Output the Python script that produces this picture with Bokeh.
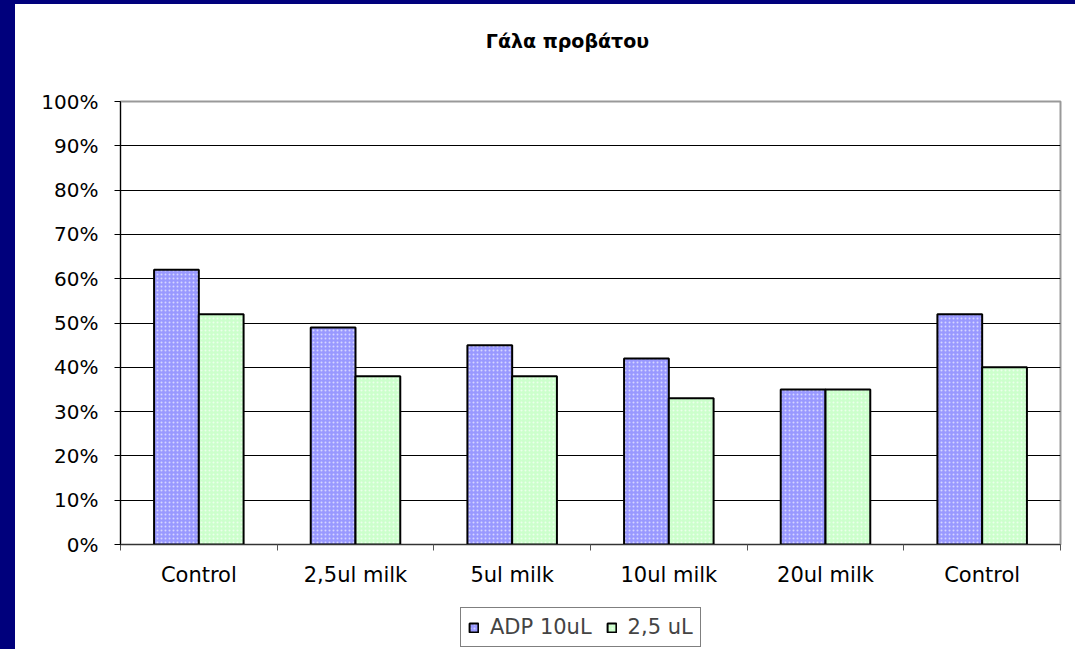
import numpy as np
from bokeh.plotting import figure
from bokeh.models import (ColumnDataSource, Range1d, FixedTicker, NumeralTickFormatter,
                          Legend, LegendItem, Spacer, Label)
from bokeh.layouts import row, column
from bokeh.embed import file_html
from bokeh.resources import INLINE

# ---- data ----
categories = ["Control", "2,5ul milk", "5ul milk", "10ul milk", "20ul milk", "Control"]
adp_10ul = [0.62, 0.49, 0.45, 0.42, 0.35, 0.52]
val_2_5ul = [0.52, 0.38, 0.38, 0.33, 0.35, 0.40]
series_names = ["ADP 10uL", "2,5 uL"]
series_colors = ["#9999ff", "#ccffcc"]
title_text = "Γάλα προβάτου"

FONT = "DejaVu Sans"
NAVY = "#00007c"
n = len(categories)
idx = np.arange(n)
bar_w = 1 / 3.5
centers = idx + 0.5

src1 = ColumnDataSource(dict(x=centers - bar_w / 2, top=adp_10ul))
src2 = ColumnDataSource(dict(x=centers + bar_w / 2, top=val_2_5ul))

bar_style = dict(line_color="black", line_width=2, hatch_pattern="dot", hatch_color="white",
                 hatch_scale=4, hatch_weight=1, hatch_alpha=0.6)

def strip(height, y_range):
    f = figure(width=1055, height=height, output_backend="svg", toolbar_location=None,
               x_range=Range1d(0, n), y_range=y_range,
               x_axis_location=None, y_axis_location=None,
               min_border_left=105, min_border_right=10, min_border_top=0, min_border_bottom=0,
               background_fill_color="white", border_fill_color="white")
    f.outline_line_color = None
    f.grid.visible = False
    return f

# ---- title strip ----
tf = strip(60, Range1d(0, 1))
tf.add_layout(Label(x=n * 0.4755, y=0.4, text=title_text, text_align="center",
                    text_baseline="middle", text_font=FONT, text_font_size="19px",
                    text_font_style="bold", text_color="black"))

# ---- main chart ----
p = figure(width=1055, height=540, output_backend="svg", toolbar_location=None,
           x_range=Range1d(0, n), y_range=Range1d(0, 1),
           min_border_left=105, min_border_right=10, min_border_top=37, min_border_bottom=60,
           background_fill_color="white", border_fill_color="white")

p.vbar(x="x", top="top", width=bar_w, source=src1, fill_color=series_colors[0], **bar_style)
p.vbar(x="x", top="top", width=bar_w, source=src2, fill_color=series_colors[1], **bar_style)

xa = p.xaxis[0]
xa.ticker = FixedTicker(ticks=list(centers), minor_ticks=list(range(n + 1)))
xa.major_label_overrides = {float(c): lab for c, lab in zip(centers, categories)}
xa.major_tick_line_color = None
xa.major_tick_out = 0
xa.major_tick_in = 0
xa.minor_tick_out = 6
xa.minor_tick_in = 0
xa.minor_tick_line_color = "#555555"
xa.axis_line_color = "#333333"
xa.major_label_standoff = 12
xa.major_label_text_font = FONT
xa.major_label_text_font_size = "21px"
xa.major_label_text_color = "black"

ya = p.yaxis[0]
ya.ticker = FixedTicker(ticks=[i / 10 for i in range(11)])
ya.formatter = NumeralTickFormatter(format="0%")
ya.major_tick_out = 6
ya.major_tick_in = 0
ya.minor_tick_line_color = None
ya.axis_line_color = "black"
ya.major_tick_line_color = "black"
ya.major_label_standoff = 16
ya.major_label_text_font = FONT
ya.major_label_text_font_size = "20px"
ya.major_label_text_color = "black"

p.xgrid.grid_line_color = None
p.ygrid.grid_line_color = "black"
p.ygrid.grid_line_width = 1
p.outline_line_color = "#999999"
p.outline_line_width = 2

# ---- legend strip (its bar renderers are hidden, only the legend shows) ----
lf = strip(45, Range1d(10, 11))
lr1 = lf.vbar(x="x", top="top", width=bar_w, source=src1, fill_color=series_colors[0], **bar_style)
lr2 = lf.vbar(x="x", top="top", width=bar_w, source=src2, fill_color=series_colors[1], **bar_style)
lr1.visible = False
lr2.visible = False
legend = Legend(items=[LegendItem(label=series_names[0], renderers=[lr1]),
                       LegendItem(label=series_names[1], renderers=[lr2])],
                orientation="horizontal", location=(340, 2),
                label_text_font=FONT, label_text_font_size="21px",
                glyph_width=11, glyph_height=11, label_standoff=11, spacing=14,
                padding=7, margin=0, border_line_color="black", border_line_width=1,
                background_fill_alpha=1, inactive_fill_alpha=0)
lf.add_layout(legend, "center")

layout = column(Spacer(width=1075, height=4, styles={"background-color": NAVY}),
                row(Spacer(width=15, height=645, styles={"background-color": NAVY}),
                    column(tf, p, lf, spacing=0), spacing=0),
                spacing=0)

html = file_html(layout, INLINE)
html = html.replace("</head>",
                    "<style>html,body{margin:0;padding:0;background-color:#ffffff;}</style></head>", 1)
open("out.html", "w").write(html)
